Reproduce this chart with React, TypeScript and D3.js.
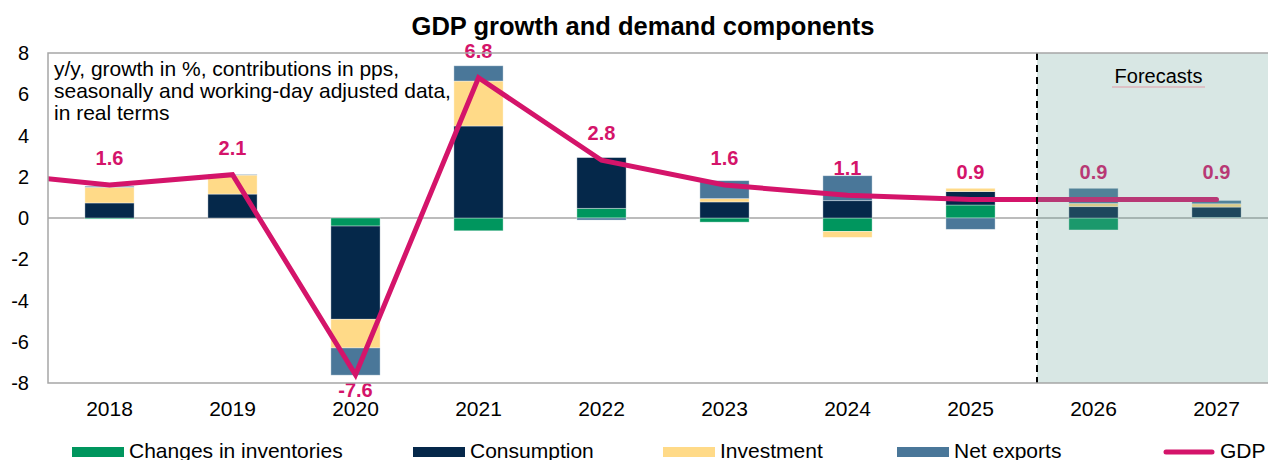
import React from "react";
import * as d3 from "d3";

const years = ["2018", "2019", "2020", "2021", "2022", "2023", "2024", "2025", "2026", "2027"];
const inventories = [-0.05, 0.0, -0.39, -0.62, 0.47, -0.2, -0.65, 0.63, -0.58, 0.03];
const consumption = [0.73, 1.16, -4.52, 4.46, 2.46, 0.78, 0.84, 0.65, 0.55, 0.5];
const investment = [0.76, 0.92, -1.39, 2.18, 0.0, 0.16, -0.29, 0.16, 0.16, 0.16];
const netExports = [0.05, 0.03, -1.32, 0.74, -0.1, 0.87, 1.21, -0.55, 0.73, 0.16];
const gdp = [1.6, 2.1, -7.6, 6.8, 2.8, 1.6, 1.1, 0.9, 0.9, 0.9];
const gdpPrevYear = 2.2; // 2017, only the segment entering the chart is visible
const yTicks = [-8, -6, -4, -2, 0, 2, 4, 6, 8];
const forecastYears = ["2026", "2027"];

const seriesNames = ["Changes in inventories", "Consumption", "Investment", "Net exports"];
const seriesColors = ["#00965e", "#05284a", "#ffda88", "#4a7799"];
const gdpColor = "#d4146a";

const W = 1268;
const H = 460;
const left = 48;
const right = 1278;
const top = 53;
const bottom = 383;

export default function App() {
  React.useEffect(() => {
    document.body.style.margin = "0";
  }, []);

  const x = d3.scaleBand<string>().domain(years).range([left, right]).paddingInner(0.6).paddingOuter(0.3);
  const y = d3.scaleLinear().domain([-8, 8]).range([bottom, top]);
  const bw = x.bandwidth();
  const cx = (yr: string) => (x(yr) as number) + bw / 2;

  const table = years.map((yr, i) => ({
    year: yr,
    s0: inventories[i],
    s1: consumption[i],
    s2: investment[i],
    s3: netExports[i],
  }));
  const stack = d3
    .stack<any>()
    .keys(["s0", "s1", "s2", "s3"])
    .offset(d3.stackOffsetDiverging);
  const layers = stack(table);

  const linePts: [number, number][] = [[cx(years[0]) - x.step(), y(gdpPrevYear)]];
  years.forEach((yr, i) => linePts.push([cx(yr), y(gdp[i])]));
  const lineGen = d3.line();

  const forecastX = (x(forecastYears[0]) as number) - (x.step() - bw) / 2 + 5;
  const font = "Arial, 'Liberation Sans', Helvetica, sans-serif";

  const legendItems = [
    { name: seriesNames[0], color: seriesColors[0], x: 72, type: "rect" },
    { name: seriesNames[1], color: seriesColors[1], x: 413, type: "rect" },
    { name: seriesNames[2], color: seriesColors[2], x: 663, type: "rect" },
    { name: seriesNames[3], color: seriesColors[3], x: 897, type: "rect" },
    { name: "GDP", color: gdpColor, x: 1163, type: "line" },
  ];

  return (
    <svg width={W} height={H} style={{ display: "block", position: "absolute", left: 0, top: 0, background: "#fff" }} fontFamily={font}>
      <defs>
        <clipPath id="plotClip">
          <rect x={left} y={top - 20} width={right - left} height={bottom - top + 40} />
        </clipPath>
      </defs>
      <text x={643} y={35} textAnchor="middle" fontSize={25.5} fontWeight="bold" fill="#000">
        GDP growth and demand components
      </text>

      {/* zero line */}
      <line x1={left} x2={right} y1={y(0)} y2={y(0)} stroke="#a6a6a6" strokeWidth={1.5} />

      {/* bars */}
      {layers.map((layer, li) => (
        <g key={li} fill={seriesColors[li]}>
          {layer.map((d, i) => {
            const y0 = y(d[0]);
            const y1 = y(d[1]);
            const h = Math.abs(y0 - y1);
            if (h < 0.01) return null;
            return (
              <rect
                key={i}
                x={x(years[i])}
                y={Math.min(y0, y1)}
                width={bw}
                height={h}
                stroke="#ffffff"
                strokeOpacity={0.45}
                strokeWidth={0.8}
              />
            );
          })}
        </g>
      ))}

      {/* GDP line */}
      <g clipPath="url(#plotClip)">
        <path
          d={lineGen(linePts) || ""}
          fill="none"
          stroke={gdpColor}
          strokeWidth={5}
          strokeLinecap="round"
          strokeLinejoin="miter"
        />
      </g>

      {/* GDP labels */}
      {years.map((yr, i) => (
        <text
          key={yr}
          x={cx(yr)}
          y={gdp[i] < 0 ? y(gdp[i]) + 22 : y(gdp[i]) - 20}
          textAnchor="middle"
          fontSize={20}
          fontWeight="bold"
          fill={gdpColor}
        >
          {gdp[i].toFixed(1)}
        </text>
      ))}

      {/* forecast shading */}
      <rect
        x={forecastX}
        y={top}
        width={right - forecastX}
        height={bottom - top}
        fill="rgb(103,163,151)"
        fillOpacity={0.26}
      />
      <line
        x1={forecastX}
        x2={forecastX}
        y1={top}
        y2={bottom}
        stroke="#000"
        strokeWidth={2}
        strokeDasharray="7,5"
      />
      <text x={(forecastX + W) / 2 + 6} y={83} textAnchor="middle" fontSize={20} fill="#000">
        Forecasts
      </text>
      <line x1={1112} x2={1205} y1={87} y2={87} stroke="#e29aa6" strokeWidth={1} />

      {/* frame */}
      <rect x={left} y={top} width={right - left} height={bottom - top} fill="none" stroke="#a6a6a6" strokeWidth={1.5} />

      {/* note */}
      <text x={54} fontSize={21} fill="#000">
        <tspan x={54} y={76}>y/y, growth in %, contributions in pps,</tspan>
        <tspan x={54} y={98}>seasonally and working-day adjusted data,</tspan>
        <tspan x={54} y={120}>in real terms</tspan>
      </text>

      {/* y axis */}
      {yTicks.map((t) => (
        <text key={t} x={29} y={y(t) + 7} textAnchor="end" fontSize={20} fill="#000">
          {t}
        </text>
      ))}

      {/* x axis */}
      {years.map((yr) => (
        <text key={yr} x={cx(yr)} y={416} textAnchor="middle" fontSize={21} fill="#000">
          {yr}
        </text>
      ))}

      {/* legend */}
      {legendItems.map((it) => (
        <g key={it.name}>
          {it.type === "rect" ? (
            <rect x={it.x} y={447} width={52} height={10} fill={it.color} />
          ) : (
            <line x1={it.x + 3} x2={it.x + 49} y1={452} y2={452} stroke={it.color} strokeWidth={5} strokeLinecap="round" />
          )}
          <text x={it.x + 57} y={458} fontSize={21} fill="#000">
            {it.name}
          </text>
        </g>
      ))}
    </svg>
  );
}
